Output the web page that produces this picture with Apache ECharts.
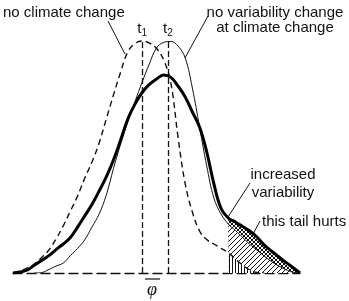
<!DOCTYPE html>
<html><head><meta charset="utf-8">
<script src="https://cdn.jsdelivr.net/npm/echarts@6/dist/echarts.min.js"></script>
<style>html,body{margin:0;padding:0;background:#fff}#c{width:349px;height:301px}</style>
</head><body><div id="c"></div>
<script>
// sampling positions along the climate variable axis
const xs = [0,2.5,5,7.5,10,12.5,15,17.5,20,22.5,25,27.5,30,32.5,35,37.5,40,42.5,45,47.5,50,52.5,55,57.5,60,62.5,65,67.5,70,72.5,75,77.5,80,82.5,85,87.5,90,92.5,95,97.5,100];
// no climate change (dashed)
const noClimateChange = [0,0.9,2.2,3.9,6.7,9.9,14.7,20.3,26.7,33.2,40.9,47.8,56.0,66.4,76.7,86.6,95.3,98.9,100,99.1,96.8,91.8,81.9,58.6,38.4,26.3,18.1,14.4,12.5,10.6,8.8,6.0,3.4,1.3,0.2,0,null,null,null,null,null];
// no variability change at climate change (thin)
const noVariabilityChange = [null,null,null,0,0.2,1.5,3.0,4.3,7.5,10.6,14.3,19.8,25.4,33.6,45.0,55.6,65.1,73.9,82.3,90.1,97.0,99.4,99.8,97.8,92.7,79.7,62.9,46.1,32.3,25.4,21.1,18.3,15.4,12.4,9.9,7.3,5.0,3.1,1.5,0.4,0];
// increased variability (thick)
const increasedVariability = [0,0.4,1.3,3.4,5.4,7.5,10.1,12.5,15.3,19.8,24.6,29.5,35.3,41.4,48.7,57.3,66.4,72.8,77.8,81.3,83.6,85.3,84.3,80.6,75.9,69.4,62.9,52.2,38.4,27.8,23.7,22.0,20.0,18.1,15.5,12.1,9.5,7.1,4.7,2.4,0];
const tailStart = 75;
const tMarks = [{sub:'1', x:45.0},{sub:'2', x:54.0}];
const peakLevel = 100;

function pairs(arr, from){
  const out=[];
  for(let i=0;i<xs.length;i++){ if(arr[i]!==null && xs[i]>=(from||0)) out.push([xs[i],arr[i]]); }
  return out;
}
function pattern(kind){
  const s = kind==='v'?3:(kind==='x'?4:5);
  const c=document.createElement('canvas'); c.width=s; c.height=s;
  const g=c.getContext('2d');
  g.fillStyle='#fff'; g.fillRect(0,0,s,s);
  g.strokeStyle='#111'; g.lineWidth=1;
  g.beginPath();
  if(kind==='v'){ g.moveTo(1.5,0); g.lineTo(1.5,s); }
  if(kind==='d'||kind==='x'){ g.moveTo(-1,s+1); g.lineTo(s+1,-1); g.moveTo(-1,1); g.lineTo(1,-1); g.moveTo(s-1,s+1); g.lineTo(s+1,s-1); }
  if(kind==='x'){ g.moveTo(-1,-1); g.lineTo(s+1,s+1); g.moveTo(s-1,-1); g.lineTo(s+1,1); g.moveTo(-1,s-1); g.lineTo(1,s+1); }
  g.stroke();
  return {image:c, repeat:'repeat'};
}
const chart = echarts.init(document.getElementById('c'), null, {renderer:'canvas'});
const ink = '#111';
const font = '"Liberation Sans", Arial, sans-serif';
const sm = 0.4;
chart.setOption({
  animation:false,
  grid:{left:13, right:49, top:17.8, bottom:28},
  xAxis:{type:'value', min:0, max:100, axisLine:{lineStyle:{color:ink, width:1.4, type:[9,5]}}, axisTick:{show:false}, axisLabel:{show:false}, splitLine:{show:false}},
  yAxis:{type:'value', min:0, max:110, show:false},
  series:[
    {type:'line', data:pairs(increasedVariability, tailStart), smooth:sm, showSymbol:false, lineStyle:{width:0}, areaStyle:{color:pattern('x'), opacity:1}, z:1},
    {type:'line', data:pairs(noVariabilityChange, tailStart), smooth:sm, showSymbol:false, lineStyle:{width:0}, areaStyle:{color:pattern('d'), opacity:1}, z:2},
    {type:'line', data:pairs(noClimateChange, tailStart), smooth:sm, showSymbol:false, lineStyle:{width:0}, areaStyle:{color:pattern('v'), opacity:1}, z:3},
    {type:'line', data:pairs(noClimateChange), smooth:sm, showSymbol:false, lineStyle:{color:ink, width:1.4, type:[6,4]}, z:5,
      markLine:{symbol:'none', silent:true, lineStyle:{color:ink, width:1.3, type:[6,3]},
        label:{show:true, position:'end', distance:3, formatter:p=>'{t|t}{s|'+p.name+'}', rich:{t:{fontSize:15, fontFamily:font, color:ink}, s:{fontSize:10, fontFamily:font, color:ink, verticalAlign:'bottom', padding:[8,0,0,0]}}},
        data: tMarks.map(m=>[{coord:[m.x,0], name:m.sub},{coord:[m.x,peakLevel]}])}},
    {type:'line', data:pairs(noVariabilityChange), smooth:sm, showSymbol:false, lineStyle:{color:ink, width:1}, z:6},
    {type:'line', data:pairs(increasedVariability), smooth:sm, showSymbol:false, lineStyle:{color:'#000', width:3}, z:7}
  ],
  graphic:[
    {type:'text', style:{x:3, y:13, text:'no climate change', font:'15px '+font, fill:ink, textVerticalAlign:'middle'}},
    {type:'text', style:{x:275, y:13, text:'no variability change', font:'15px '+font, fill:ink, textAlign:'center', textVerticalAlign:'middle'}},
    {type:'text', style:{x:275, y:28, text:'at climate change', font:'15px '+font, fill:ink, textAlign:'center', textVerticalAlign:'middle'}},
    {type:'text', style:{x:283, y:175, text:'increased', font:'15px '+font, fill:ink, textAlign:'center', textVerticalAlign:'middle'}},
    {type:'text', style:{x:283, y:193, text:'variability', font:'15px '+font, fill:ink, textAlign:'center', textVerticalAlign:'middle'}},
    {type:'text', style:{x:262, y:222, text:'this tail hurts', font:'15px '+font, fill:ink, textVerticalAlign:'middle'}},
    {type:'text', style:{x:152, y:290, text:'φ', font:'italic 18px "Liberation Serif", "DejaVu Serif", serif', fill:ink, textAlign:'center', textVerticalAlign:'middle'}},
    {type:'line', shape:{x1:145, y1:279, x2:160, y2:279}, style:{stroke:ink, lineWidth:1.2}},
    {type:'line', shape:{x1:108, y1:21, x2:125, y2:54}, style:{stroke:ink, lineWidth:1}},
    {type:'line', shape:{x1:208, y1:16, x2:185, y2:58}, style:{stroke:ink, lineWidth:1}},
    {type:'line', shape:{x1:250, y1:183, x2:228, y2:217}, style:{stroke:ink, lineWidth:1}},
    {type:'line', shape:{x1:260, y1:221, x2:252, y2:236}, style:{stroke:ink, lineWidth:1}}
  ]
});
</script></body></html>
